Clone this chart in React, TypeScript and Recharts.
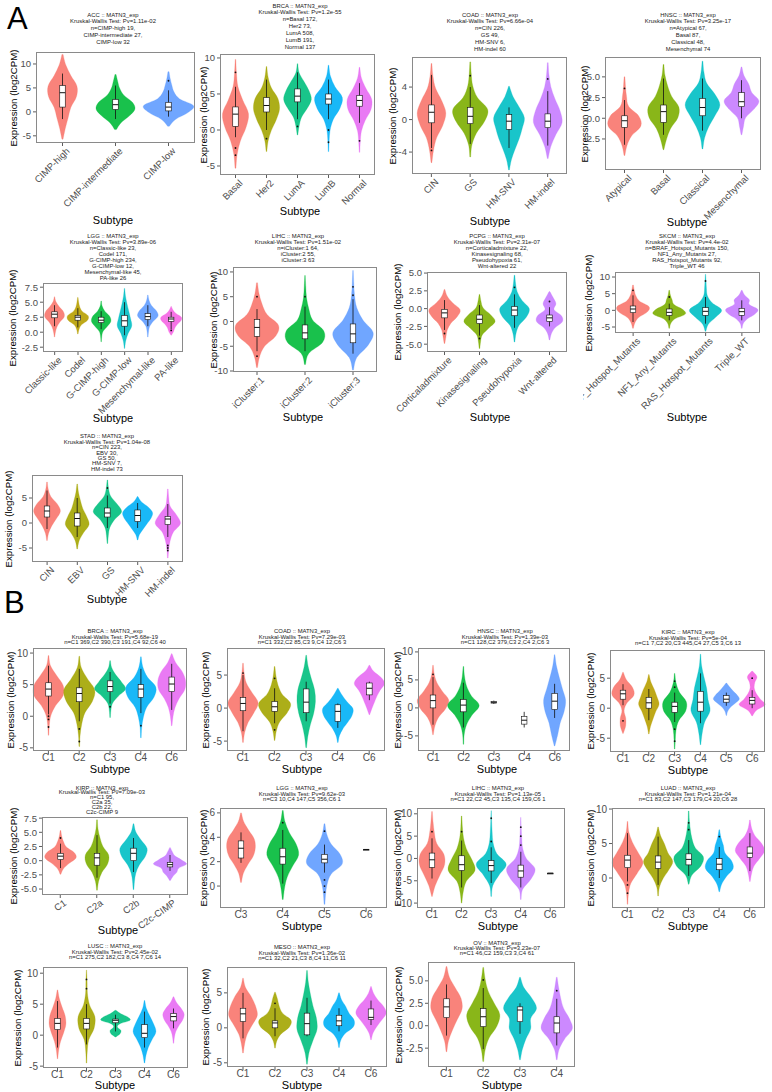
import React from "react";
import { Bar, ComposedChart, XAxis, YAxis } from "recharts";

// ggplot hue palettes
const P3 = ["#F8766D", "#00BA38", "#619CFF"];
const P4 = ["#F8766D", "#7CAE00", "#00BFC4", "#C77CFF"];
const P5 = ["#F8766D", "#A3A500", "#00BF7D", "#00B0F6", "#E76BF3"];
const P6 = ["#F8766D", "#B79F00", "#00BA38", "#00BFC4", "#619CFF", "#F564E3"];

// range = violin extent [min, max]; dens = relative widths, evenly spaced min -> max
// box = [lower whisker, q1, median, q3, upper whisker]; out = outlier points

// ---------- A: ACC
const accNames = ["CIMP-high", "CIMP-intermediate", "CIMP-low"];
const accRange = [[-5.7, 12.0], [-3.7, 7.8], [-3.0, 8.4]];
const accDens = [
  [0.02, 0.1, 0.2, 0.3, 0.5, 0.52, 0.3, 0.12, 0.02],
  [0.03, 0.2, 0.5, 0.7, 0.6, 0.3, 0.15, 0.08, 0.02],
  [0.03, 0.25, 0.7, 0.9, 0.4, 0.2, 0.12, 0.06, 0.02],
];
const accBox = [[-1.5, 1.0, 4.0, 5.5, 8.0], [-1.5, 0.5, 1.5, 2.6, 5.5], [-1.0, 0.2, 1.0, 2.0, 4.5]];
const accOut = [[], [], [6.5]];
const accTicks = [-5, 0, 5, 10];

// ---------- A: BRCA
const brcaANames = ["Basal", "Her2", "LumA", "LumB", "Normal"];
const brcaARange = [[-5.3, 9.8], [-3, 8.8], [-0.7, 9.2], [-3, 9], [-3.1, 8.7]];
const brcaADens = [
  [0.03, 0.1, 0.3, 0.65, 0.8, 0.45, 0.15, 0.06, 0.02],
  [0.02, 0.1, 0.3, 0.6, 0.8, 0.7, 0.3, 0.1, 0.02],
  [0.02, 0.1, 0.25, 0.6, 0.85, 0.7, 0.4, 0.1, 0.02],
  [0.02, 0.04, 0.1, 0.3, 0.7, 0.85, 0.4, 0.12, 0.02],
  [0.02, 0.05, 0.12, 0.35, 0.7, 0.75, 0.4, 0.12, 0.02],
];
const brcaABox = [[-1, 0.5, 2.2, 3.2, 6], [0, 2.5, 3.4, 4.5, 7], [1.5, 3.9, 4.7, 5.7, 8], [1.5, 3.6, 4.3, 5.0, 7], [1, 3.3, 4.1, 4.8, 6.5]];
const brcaAOut = [[-2.5, -3.5, 8], [-1.2], [0.5], [0, -1.7], [-1.5]];
const brcaATicks = [-5, 0, 5, 10];

// ---------- A: COAD
const coadANames = ["CIN", "GS", "HM-SNV", "HM-indel"];
const coadARange = [[-5.3, 6.9], [-4.6, 7.1], [-6.2, 4.1], [-4.8, 7.0]];
const coadADens = [
  [0.02, 0.1, 0.25, 0.55, 0.7, 0.5, 0.2, 0.07, 0.02],
  [0.02, 0.08, 0.3, 0.7, 0.85, 0.35, 0.12, 0.05, 0.02],
  [0.02, 0.12, 0.3, 0.5, 0.65, 0.75, 0.5, 0.2, 0.02],
  [0.02, 0.15, 0.4, 0.7, 0.6, 0.35, 0.15, 0.06, 0.02],
];
const coadABox = [[-3.5, -0.4, 0.9, 1.8, 5.5], [-3, -0.5, 0.4, 1.5, 4], [-3.5, -1.2, -0.2, 0.6, 1.5], [-3.2, -1.0, -0.2, 0.7, 3.5]];
const coadAOut = [[-3.8], [5.4], [], [5]];
const coadATicks = [-4, 0, 4];

// ---------- A: HNSC
const hnscANames = ["Atypical", "Basal", "Classical", "Mesenchymal"];
const hnscARange = [[-4.5, 5.0], [-3.8, 6.5], [-3.7, 6.9], [-2.0, 6.2]];
const hnscADens = [
  [0.02, 0.12, 0.35, 0.8, 0.7, 0.2, 0.1, 0.05, 0.02],
  [0.02, 0.15, 0.35, 0.7, 0.75, 0.4, 0.2, 0.07, 0.02],
  [0.02, 0.1, 0.3, 0.6, 0.85, 0.6, 0.2, 0.07, 0.02],
  [0.02, 0.1, 0.2, 0.6, 0.85, 0.5, 0.35, 0.12, 0.02],
];
const hnscABox = [[-3.2, -1.1, -0.3, 0.3, 2.2], [-2, -0.5, 0.8, 1.6, 4.8], [-1.5, 0.3, 1.3, 2.4, 4.8], [0, 1.4, 2.0, 3.1, 4.6]];
const hnscAOut = [[3.6], [], [], []];
const hnscATicks = [-2.5, 0, 2.5, 5];

// ---------- A: LGG
const lggANames = ["Classic-like", "Codel", "G-CIMP-high", "G-CIMP-low", "Mesenchymal-like", "PA-like"];
const lggARange = [[-0.8, 5.9], [-0.3, 5.8], [-1.6, 5.2], [-2.7, 7.3], [-0.8, 6.2], [-0.5, 4.3]];
const lggADens = [
  [0.02, 0.08, 0.2, 0.45, 0.8, 0.75, 0.4, 0.12, 0.02],
  [0.02, 0.1, 0.3, 0.8, 0.85, 0.35, 0.15, 0.07, 0.02],
  [0.02, 0.05, 0.15, 0.5, 0.8, 0.7, 0.3, 0.08, 0.02],
  [0.02, 0.1, 0.3, 0.6, 0.5, 0.35, 0.2, 0.08, 0.02],
  [0.02, 0.06, 0.15, 0.45, 0.85, 0.7, 0.3, 0.1, 0.02],
  [0.02, 0.2, 0.3, 0.5, 0.8, 0.85, 0.4, 0.15, 0.02],
];
const lggABox = [[1.0, 2.4, 3.0, 3.4, 4.5], [0.8, 2.0, 2.5, 2.8, 4.0], [0.5, 1.6, 2.0, 2.5, 3.5], [-0.5, 1.0, 1.9, 2.8, 5.0], [1.0, 2.1, 2.6, 3.1, 4.5], [0.5, 1.8, 2.2, 2.5, 3.4]];
const lggAOut = [[], [], [], [], [], [0.3]];
const lggATicks = [-2.5, 0, 2.5, 5, 7.5];

// ---------- A: LIHC
const lihcANames = ["iCluster:1", "iCluster:2", "iCluster:3"];
const lihcARange = [[-9.3, 7.8], [-8.7, 9.3], [-9.8, 10.3]];
const lihcADens = [
  [0.02, 0.1, 0.3, 0.75, 0.85, 0.4, 0.2, 0.08, 0.02],
  [0.02, 0.15, 0.7, 0.75, 0.3, 0.15, 0.06, 0.03, 0.01],
  [0.02, 0.15, 0.6, 0.8, 0.4, 0.15, 0.06, 0.03, 0.01],
];
const lihcABox = [[-6, -3.0, -1.2, 0.4, 2.5], [-6, -3.5, -2.3, -0.7, 3], [-6.5, -4.3, -2.5, -0.5, 4.5]];
const lihcAOut = [[-7, 5], [5], [7, 5.3]];
const lihcATicks = [-10, -5, 0, 5, 10];

// ---------- A: PCPG
const pcpgNames = ["Corticaladmixture", "Kinasesignaling", "Pseudohypoxia", "Wnt-altered"];
const pcpgRange = [[-4.9, 2.7], [-5.6, 2.0], [-4.7, 4.7], [-4.4, 2.4]];
const pcpgDens = [
  [0.02, 0.08, 0.15, 0.35, 0.7, 0.85, 0.45, 0.15, 0.02],
  [0.02, 0.06, 0.15, 0.5, 0.85, 0.6, 0.2, 0.08, 0.02],
  [0.02, 0.08, 0.25, 0.65, 0.8, 0.4, 0.15, 0.06, 0.02],
  [0.02, 0.1, 0.3, 0.7, 0.65, 0.25, 0.35, 0.2, 0.02],
];
const pcpgBox = [[-3, -1.3, -0.6, -0.1, 1.2], [-3.8, -2.1, -1.5, -0.9, 0.5], [-2.7, -1.0, -0.2, 0.3, 2.0], [-2.5, -1.8, -1.3, -0.9, 0.2]];
const pcpgOut = [[-3.5], [-4.2], [3], [1.0]];
const pcpgTicks = [-5, -2.5, 0, 2.5, 5];

// ---------- A: SKCM
const skcmNames = ["BRAF_Hotspot_Mutants", "NF1_Any_Mutants", "RAS_Hotspot_Mutants", "Triple_WT"];
const skcmRange = [[-5.4, 7.6], [-5.4, 6.0], [-6.3, 10.8], [-5.4, 6.0]];
const skcmDens = [
  [0.02, 0.1, 0.3, 0.75, 0.85, 0.35, 0.15, 0.07, 0.02],
  [0.02, 0.08, 0.3, 0.85, 0.7, 0.25, 0.15, 0.06, 0.02],
  [0.02, 0.15, 0.55, 0.85, 0.35, 0.1, 0.05, 0.03, 0.01],
  [0.02, 0.08, 0.3, 0.7, 0.85, 0.4, 0.4, 0.15, 0.02],
];
const skcmBox = [[-3.5, -0.7, 0.4, 1.3, 4.5], [-3, -1.5, -0.6, 0.4, 2], [-4, -1.5, -0.3, 0.8, 4], [-3, -1.5, -0.4, 0.6, 3]];
const skcmOut = [[6], [4], [8.8], []];
const skcmTicks = [-5, 0, 5, 10];

// ---------- A: STAD
const stadNames = ["CIN", "EBV", "GS", "HM-SNV", "HM-indel"];
const stadRange = [[-3.5, 8.2], [-5.2, 7.8], [-4.1, 8.6], [-3.4, 5.3], [-7, 6.8]];
const stadDens = [
  [0.02, 0.1, 0.3, 0.6, 0.85, 0.65, 0.25, 0.08, 0.02],
  [0.02, 0.12, 0.4, 0.75, 0.6, 0.35, 0.2, 0.08, 0.02],
  [0.02, 0.06, 0.15, 0.45, 0.9, 0.6, 0.2, 0.07, 0.02],
  [0.02, 0.12, 0.35, 0.6, 0.85, 0.95, 0.7, 0.25, 0.02],
  [0.02, 0.06, 0.15, 0.35, 0.8, 0.55, 0.15, 0.06, 0.02],
];
const stadBox = [[-1.2, 1.2, 2.4, 3.4, 6.5], [-2.8, -0.6, 0.9, 2.0, 5], [-1, 1.2, 2.0, 3.0, 5.5], [-1, 0.3, 1.5, 2.6, 4], [-2.8, -0.3, 0.8, 1.3, 3.8]];
const stadOut = [[], [], [7], [], [-4.5, -5, -5.5]];
const stadTicks = [-5, 0, 5];

// ---------- B: BRCA
const brcaBNames = ["C1", "C2", "C3", "C4", "C6"];
const brcaBRange = [[-3, 9.6], [-4.8, 9.5], [-0.2, 8.8], [-3.4, 9.4], [-1.5, 9.9]];
const brcaBDens = [
  [0.02, 0.05, 0.15, 0.45, 0.9, 0.9, 0.5, 0.12, 0.02],
  [0.02, 0.05, 0.15, 0.35, 0.8, 0.95, 0.5, 0.12, 0.02],
  [0.02, 0.05, 0.15, 0.5, 0.95, 0.7, 0.35, 0.1, 0.02],
  [0.02, 0.05, 0.15, 0.35, 0.8, 0.92, 0.4, 0.12, 0.02],
  [0.02, 0.08, 0.2, 0.45, 0.8, 0.85, 0.65, 0.25, 0.02],
];
const brcaBBox = [[0.3, 3.2, 4.3, 5.3, 8], [-0.8, 2.3, 3.6, 4.5, 7.5], [2, 3.9, 4.7, 5.6, 7], [0.5, 3.0, 4.3, 5.0, 7.5], [1, 3.9, 5.1, 6.2, 8.3]];
const brcaBOut = [[-1.7, -0.5, 0], [-2, -4], [1.5], [-1.5], []];
const brcaBTicks = [-5, 0, 5, 10];

// ---------- B: COAD
const coadBNames = ["C1", "C2", "C3", "C4", "C6"];
const coadBRange = [[-5.2, 6.8], [-4.9, 6.3], [-6, 8], [-5.2, 3], [-1, 6.5]];
const coadBDens = [
  [0.02, 0.1, 0.3, 0.65, 0.9, 0.55, 0.2, 0.07, 0.02],
  [0.02, 0.1, 0.3, 0.75, 0.95, 0.45, 0.2, 0.08, 0.02],
  [0.02, 0.1, 0.25, 0.45, 0.55, 0.5, 0.3, 0.12, 0.02],
  [0.02, 0.1, 0.3, 0.6, 0.85, 0.9, 0.55, 0.25, 0.02],
  [0.02, 0.15, 0.3, 0.45, 0.65, 0.9, 0.7, 0.25, 0.02],
];
const coadBBox = [[-3.5, -0.4, 0.7, 1.6, 5], [-2.3, -0.5, 0.2, 1.0, 3], [-2, -0.7, 0.9, 2.9, 4], [-3, -2, -0.5, 0.5, 0.7], [1.2, 2, 3.0, 3.8, 4]];
const coadBOut = [[5.3], [-3.3, 4.5], [], [], []];
const coadBTicks = [-5, 0, 5];

// ---------- B: HNSC
const hnscBNames = ["C1", "C2", "C3", "C4", "C6"];
const hnscBRange = [[-4.8, 7.6], [-6.5, 7.4], [0.7, 1.3], [-3.5, -0.7], [-6.8, 9.5]];
const hnscBDens = [
  [0.02, 0.12, 0.35, 0.8, 1.0, 0.6, 0.25, 0.08, 0.02],
  [0.02, 0.05, 0.2, 0.55, 1.0, 0.5, 0.2, 0.07, 0.02],
  [],
  [],
  [0.02, 0.2, 0.35, 0.6, 0.7, 0.5, 0.3, 0.12, 0.02],
];
const hnscBBox = [[-3, 0, 1.3, 2.3, 5.5], [-3.5, -0.7, 0.5, 1.5, 4.5], [0.7, 0.85, 1.0, 1.15, 1.3], [-3.5, -2.9, -2.2, -1.5, -0.7], [-1.8, -0.3, 1.2, 2.6, 4.3]];
const hnscBOut = [[6], [], [], [], []];
const hnscBTicks = [-5, 0, 5, 10];

// ---------- B: KIRC
const kircNames = ["C1", "C2", "C3", "C4", "C5", "C6"];
const kircRange = [[-4.2, 6.0], [-4.3, 5.6], [-6.8, 5.8], [-6.1, 9.0], [-1.2, 4.2], [-1.3, 6.2]];
const kircDens = [
  [0.02, 0.2, 0.2, 0.08, 0.3, 0.8, 0.7, 0.25, 0.02],
  [0.02, 0.12, 0.3, 0.5, 0.75, 0.6, 0.4, 0.15, 0.02],
  [0.02, 0.05, 0.1, 0.3, 0.8, 0.85, 0.35, 0.1, 0.02],
  [0.02, 0.12, 0.3, 0.7, 0.55, 0.45, 0.25, 0.08, 0.02],
  [0.02, 0.1, 0.3, 0.65, 0.95, 0.8, 0.5, 0.25, 0.02],
  [0.02, 0.3, 0.95, 0.6, 0.3, 0.15, 0.2, 0.35, 0.02],
];
const kircBox = [[0.5, 1.5, 2.4, 3.0, 4], [-2, 0, 0.9, 1.8, 3.2], [-2.3, -0.7, 0.3, 1.0, 2.6], [-2.5, -0.5, 1.0, 2.8, 5.8], [0.4, 1.0, 1.5, 2.1, 2.6], [0, 0.7, 1.3, 1.8, 3]];
const kircOut = [[-2.1], [], [-3.5, -5.5, 4.5, 3.5], [], [], [5]];
const kircTicks = [-5, 0, 5];

// ---------- B: KIRP
const kirpNames = ["C1", "C2a", "C2b", "C2c-CIMP"];
const kirpRange = [[-2.4, 5.3], [-5.2, 7.2], [-5.1, 6.5], [-3.5, 2.3]];
const kirpDens = [
  [0.02, 0.15, 0.45, 0.8, 0.7, 0.3, 0.15, 0.06, 0.02],
  [0.02, 0.08, 0.25, 0.55, 0.6, 0.3, 0.15, 0.05, 0.02],
  [0.02, 0.05, 0.12, 0.3, 0.6, 0.7, 0.4, 0.12, 0.02],
  [0.02, 0.15, 0.35, 0.45, 0.85, 0.6, 0.25, 0.12, 0.02],
];
const kirpBox = [[-1.3, 0.2, 0.8, 1.3, 3], [-3, -0.8, 0.5, 1.3, 4.5], [-2, 0, 1.3, 2.2, 4], [-1.8, -1.1, -0.7, -0.3, 1]];
const kirpOut = [[4], [], [], []];
const kirpTicks = [-5, -2.5, 0, 2.5, 5, 7.5];

// ---------- B: LGG
const lggBNames = ["C3", "C4", "C5", "C6"];
const lggBRange = [[0.3, 6.0], [-1.1, 6.2], [-1.5, 5.1], [2.97, 3.03]];
const lggBDens = [
  [0.02, 0.1, 0.3, 0.55, 0.65, 0.6, 0.35, 0.12, 0.02],
  [0.02, 0.08, 0.2, 0.45, 0.72, 0.6, 0.3, 0.1, 0.02],
  [0.02, 0.05, 0.12, 0.3, 0.8, 0.7, 0.3, 0.1, 0.02],
  [],
];
const lggBBox = [[1.9, 2.3, 3.1, 3.7, 4.4], [0.2, 1.8, 2.4, 3.1, 4.6], [1.1, 1.9, 2.2, 2.6, 3.4], [3, 3, 3, 3, 3]];
const lggBOut = [[], [5.2], [0.5, 0, -0.5, 4.5], []];
const lggBTicks = [0, 2, 4, 6];

// ---------- B: LIHC
const lihcBNames = ["C1", "C2", "C3", "C4", "C6"];
const lihcBRange = [[-8.5, 10.5], [-10, 9.5], [-8.5, 10.7], [-9.2, 9.2], [-3.33, -3.27]];
const lihcBDens = [
  [0.02, 0.2, 0.5, 0.8, 0.75, 0.3, 0.15, 0.07, 0.02],
  [0.02, 0.1, 0.3, 0.85, 0.65, 0.3, 0.12, 0.05, 0.02],
  [0.02, 0.1, 0.5, 0.95, 0.35, 0.12, 0.06, 0.03, 0.01],
  [0.02, 0.12, 0.65, 0.9, 0.35, 0.12, 0.06, 0.03, 0.01],
  [],
];
const lihcBBox = [[-4.5, -2.0, -0.3, 1.2, 4.5], [-6.5, -2.7, -1.4, 0.6, 4], [-5.5, -2.8, -1.6, -0.5, 2.5], [-6.5, -4.2, -2.8, -1.5, 1.5], [-3.3, -3.3, -3.3, -3.3, -3.3]];
const lihcBOut = [[6], [6], [3.8, 9], [3, 5, 7], []];
const lihcBTicks = [-10, -5, 0, 5, 10];

// ---------- B: LUAD
const luadNames = ["C1", "C2", "C3", "C4", "C6"];
const luadRange = [[-3.8, 8.2], [-2.6, 7.4], [-0.9, 9.7], [-2, 7.0], [-0.5, 8.4]];
const luadDens = [
  [0.02, 0.06, 0.2, 0.6, 0.95, 0.65, 0.3, 0.08, 0.02],
  [0.02, 0.08, 0.3, 0.65, 0.9, 0.6, 0.4, 0.15, 0.02],
  [0.02, 0.2, 0.75, 0.9, 0.4, 0.2, 0.1, 0.04, 0.02],
  [0.02, 0.15, 0.45, 0.85, 0.75, 0.35, 0.25, 0.1, 0.02],
  [0.02, 0.1, 0.25, 0.6, 0.9, 0.7, 0.3, 0.1, 0.02],
];
const luadBox = [[-0.5, 1.5, 2.6, 3.3, 6.5], [-1, 1.4, 2.3, 3.2, 6], [0.3, 1.9, 2.7, 3.5, 5.5], [0, 1.2, 2.0, 2.8, 4.5], [1, 3.0, 3.6, 4.5, 6.5]];
const luadOut = [[-2.2, -1], [], [7, 8], [6], []];
const luadTicks = [0, 5, 10];

// ---------- B: LUSC
const luscNames = ["C1", "C2", "C3", "C4", "C6"];
const luscRange = [[-3.8, 7.3], [-4.5, 10.5], [-0.3, 4.0], [-4.5, 5.6], [-1.3, 6.2]];
const luscDens = [
  [0.02, 0.08, 0.2, 0.4, 0.55, 0.5, 0.3, 0.12, 0.02],
  [0.02, 0.05, 0.15, 0.5, 0.55, 0.2, 0.06, 0.04, 0.01],
  [0.02, 0.3, 0.35, 0.12, 0.3, 0.95, 0.8, 0.35, 0.02],
  [0.02, 0.1, 0.25, 0.5, 0.75, 0.6, 0.35, 0.12, 0.02],
  [0.02, 0.06, 0.15, 0.35, 0.6, 0.7, 0.5, 0.2, 0.02],
];
const luscBox = [[-2, 0.9, 1.9, 2.7, 5.5], [-1.5, 1.0, 1.9, 2.7, 5], [0.6, 2.0, 2.4, 2.6, 3.3], [-2, -0.4, 0.3, 1.7, 3.8], [1.1, 2.3, 3.0, 3.5, 4.3]];
const luscOut = [[], [9, 7.5], [], [], []];
const luscTicks = [-5, 0, 5, 10];

// ---------- B: MESO
const mesoNames = ["C1", "C2", "C3", "C4", "C6"];
const mesoRange = [[-3.6, 7.1], [-2.9, 5.1], [-5.2, 8.2], [-2.8, 5.0], [-1.7, 5.9]];
const mesoDens = [
  [0.02, 0.1, 0.25, 0.55, 0.85, 0.75, 0.5, 0.15, 0.02],
  [0.02, 0.1, 0.35, 0.85, 0.95, 0.45, 0.25, 0.15, 0.02],
  [0.02, 0.12, 0.35, 0.6, 0.55, 0.35, 0.2, 0.08, 0.02],
  [0.02, 0.1, 0.35, 0.85, 0.9, 0.6, 0.4, 0.15, 0.02],
  [0.02, 0.12, 0.35, 0.65, 0.9, 0.75, 0.4, 0.15, 0.02],
];
const mesoBox = [[-1.5, 0.9, 2.0, 2.8, 5], [-1.2, 0, 0.7, 1.0, 2.8], [-1.2, -1, 0.6, 2.1, 4.3], [-0.5, 0.3, 1.0, 1.8, 2.8], [0.4, 1.2, 1.5, 2.7, 3.9]];
const mesoOut = [[], [3.5], [], [], []];
const mesoTicks = [-5, 0, 5];

// ---------- B: OV
const ovNames = ["C1", "C2", "C3", "C4"];
const ovRange = [[-2.9, 6.6], [-4.0, 6.5], [-3.8, 5.4], [-3.8, 5.4]];
const ovDens = [
  [0.02, 0.1, 0.3, 0.55, 0.8, 0.75, 0.45, 0.15, 0.02],
  [0.02, 0.1, 0.3, 0.7, 0.85, 0.55, 0.25, 0.1, 0.02],
  [0.02, 0.12, 0.3, 0.55, 0.55, 0.85, 0.6, 0.2, 0.02],
  [0.02, 0.12, 0.4, 0.8, 0.65, 0.35, 0.2, 0.1, 0.02],
];
const ovBox = [[-1.1, 0.9, 2.1, 3.0, 4.6], [-2.6, -0.1, 1.0, 1.9, 4.2], [-0.9, 0.45, 1.75, 2.1, 2.5], [-2.2, -0.8, 0.3, 1.0, 3.0]];
const ovOut = [[], [5.1], [], [3.9]];
const ovTicks = [-2.5, 0, 2.5, 5];

type Panel = {
  names: string[];
  range: number[][];
  dens: number[][];
  box: number[][];
  out: number[][];
  colors: (string | null)[];
  ticks: number[];
  domain: [number, number];
  title: string[];
  L: number; R: number; T: number; B: number;
  tx: number; ty: number; tlh: number;
  ylx: number; sx: number; sy: number;
  rot: number; yW?: number; xH: number;
};

const panels: Panel[] = [
  { names: accNames, range: accRange, dens: accDens, box: accBox, out: accOut, colors: P3, ticks: accTicks, domain: [-6.5, 12.5],
    title: ["ACC :: MATN3_exp", "Kruskal-Wallis Test: Pv=1.11e-02", "n=CIMP-high 19,", "CIMP-intermediate 27,", "CIMP-low 32"],
    L: 36, R: 195, T: 52, B: 143, tx: 113, ty: 15, tlh: 6.8, ylx: 13, sx: 113, sy: 220, rot: 45, xH: 80 },
  { names: brcaANames, range: brcaARange, dens: brcaADens, box: brcaABox, out: brcaAOut, colors: P5, ticks: brcaATicks, domain: [-6.25, 10.55],
    title: ["BRCA :: MATN3_exp", "Kruskal-Wallis Test: Pv=1.2e-55", "n=Basal 172,", "Her2 73,", "LumA 508,", "LumB 191,", "Normal 137"],
    L: 220, R: 375, T: 54, B: 175, tx: 300, ty: 6, tlh: 6.9, ylx: 203, sx: 300, sy: 211, rot: 45, xH: 60 },
  { names: coadANames, range: coadARange, dens: coadADens, box: coadABox, out: coadAOut, colors: P4, ticks: coadATicks, domain: [-6.7, 7.7],
    title: ["COAD :: MATN3_exp", "Kruskal-Wallis Test: Pv=6.66e-04", "n=CIN 226,", "GS 49,", "HM-SNV 6,", "HM-indel 60"],
    L: 412, R: 567, T: 57, B: 174, tx: 490, ty: 15, tlh: 6.8, ylx: 392, sx: 490, sy: 221, rot: 45, xH: 60 },
  { names: hnscANames, range: hnscARange, dens: hnscADens, box: hnscABox, out: hnscAOut, colors: P4, ticks: hnscATicks, domain: [-6.25, 7.4],
    title: ["HNSC :: MATN3_exp", "Kruskal-Wallis Test: Pv=3.25e-17", "n=Atypical 67,", "Basal 87,", "Classical 48,", "Mesenchymal 74"],
    L: 605, R: 761, T: 57, B: 170, tx: 688, ty: 15, tlh: 6.8, ylx: 584, sx: 687, sy: 222, rot: 45, xH: 60 },
  { names: lggANames, range: lggARange, dens: lggADens, box: lggABox, out: lggAOut, colors: P6, ticks: lggATicks, domain: [-3.3, 8.2],
    title: ["LGG :: MATN3_exp", "Kruskal-Wallis Test: Pv=3.89e-06", "n=Classic-like 23,", "Codel 171,", "G-CIMP-high 234,", "G-CIMP-low 12,", "Mesenchymal-like 45,", "PA-like 26"],
    L: 43, R: 183, T: 283, B: 352, tx: 113, ty: 236, tlh: 6.0, ylx: 12, sx: 113, sy: 418, rot: 45, xH: 80 },
  { names: lihcANames, range: lihcARange, dens: lihcADens, box: lihcABox, out: lihcAOut, colors: P3, ticks: lihcATicks, domain: [-10.2, 11],
    title: ["LIHC :: MATN3_exp", "Kruskal-Wallis Test: Pv=1.51e-02", "n=iCluster:1 64,", "iCluster:2 55,", "iCluster:3 63"],
    L: 233, R: 377, T: 267, B: 372, tx: 298, ty: 236, tlh: 6.0, ylx: 213, sx: 303, sy: 417, rot: 45, xH: 60 },
  { names: pcpgNames, range: pcpgRange, dens: pcpgDens, box: pcpgBox, out: pcpgOut, colors: P4, ticks: pcpgTicks, domain: [-6.1, 5.15],
    title: ["PCPG :: MATN3_exp", "Kruskal-Wallis Test: Pv=2.31e-07", "n=Corticaladmixture 22,", "Kinasesignaling 68,", "Pseudohypoxia 61,", "Wnt-altered 22"],
    L: 427, R: 567, T: 272, B: 352, tx: 497, ty: 236, tlh: 6.0, ylx: 397, sx: 490, sy: 417, rot: 45, xH: 80 },
  { names: skcmNames, range: skcmRange, dens: skcmDens, box: skcmBox, out: skcmOut, colors: P4, ticks: skcmTicks, domain: [-6.8, 11.5],
    title: ["SKCM :: MATN3_exp", "Kruskal-Wallis Test: Pv=4.4e-02", "n=BRAF_Hotspot_Mutants 150,", "NF1_Any_Mutants 27,", "RAS_Hotspot_Mutants 92,", "Triple_WT 46"],
    L: 615, R: 760, T: 272, B: 333, tx: 687, ty: 236, tlh: 6.0, ylx: 588, sx: 687, sy: 417, rot: 45, yW: 32, xH: 80 },
  { names: stadNames, range: stadRange, dens: stadDens, box: stadBox, out: stadOut, colors: P5, ticks: stadTicks, domain: [-7.8, 9.6],
    title: ["STAD :: MATN3_exp", "Kruskal-Wallis Test: Pv=1.04e-08", "n=CIN 223,", "EBV 30,", "GS 50,", "HM-SNV 7,", "HM-indel 73"],
    L: 32, R: 183, T: 475, B: 562, tx: 107, ty: 437, tlh: 5.4, ylx: 8, sx: 107, sy: 599, rot: 45, xH: 50 },
  { names: brcaBNames, range: brcaBRange, dens: brcaBDens, box: brcaBBox, out: brcaBOut, colors: P5, ticks: brcaBTicks, domain: [-5.5, 10.8],
    title: ["BRCA :: MATN3_exp", "Kruskal-Wallis Test: Pv=5.68e-19", "n=C1 369,C2 390,C3 191,C4 92,C6 40"],
    L: 33, R: 187, T: 648, B: 751, tx: 115, ty: 632, tlh: 5.6, ylx: 10, sx: 110, sy: 769, rot: 0, xH: 16 },
  { names: coadBNames, range: coadBRange, dens: coadBDens, box: coadBBox, out: coadBOut, colors: P5, ticks: coadBTicks, domain: [-6.5, 9.1],
    title: ["COAD :: MATN3_exp", "Kruskal-Wallis Test: Pv=7.29e-03", "n=C1 332,C2 85,C3 9,C4 12,C6 3"],
    L: 227, R: 385, T: 648, B: 751, tx: 302, ty: 632, tlh: 5.6, ylx: 205, sx: 302, sy: 769, rot: 0, xH: 16 },
  { names: hnscBNames, range: hnscBRange, dens: hnscBDens, box: hnscBBox, out: hnscBOut, colors: ["#F8766D", "#00BA38", null, null, "#619CFF"], ticks: hnscBTicks, domain: [-7.7, 10.7],
    title: ["HNSC :: MATN3_exp", "Kruskal-Wallis Test: Pv=1.39e-03", "n=C1 128,C2 379,C3 2,C4 2,C6 3"],
    L: 418, R: 570, T: 648, B: 751, tx: 505, ty: 632, tlh: 5.6, ylx: 397, sx: 497, sy: 769, rot: 0, xH: 16 },
  { names: kircNames, range: kircRange, dens: kircDens, box: kircBox, out: kircOut, colors: P6, ticks: kircTicks, domain: [-7.3, 9.7],
    title: ["KIRC :: MATN3_exp", "Kruskal-Wallis Test: Pv=5e-04", "n=C1 7,C2 20,C3 445,C4 27,C5 3,C6 13"],
    L: 610, R: 765, T: 650, B: 752, tx: 688, ty: 633, tlh: 5.6, ylx: 590, sx: 688, sy: 770, rot: 0, xH: 16 },
  { names: kirpNames, range: kirpRange, dens: kirpDens, box: kirpBox, out: kirpOut, colors: P4, ticks: kirpTicks, domain: [-6.05, 7.7],
    title: ["KIRP :: MATN3_exp", "Kruskal-Wallis Test: Pv=7.09e-03", "n=C1 95,", "C2a 35,", "C2b 22,", "C2c-CIMP 9"],
    L: 42, R: 188, T: 817, B: 895, tx: 102, ty: 788, tlh: 4.8, ylx: 13, sx: 118, sy: 930, rot: 35, xH: 40 },
  { names: lggBNames, range: lggBRange, dens: lggBDens, box: lggBBox, out: lggBOut, colors: [...P3, null], ticks: lggBTicks, domain: [-1.8, 6.4],
    title: ["LGG :: MATN3_exp", "Kruskal-Wallis Test: Pv=9.62e-03", "n=C3 10,C4 147,C5 356,C6 1"],
    L: 220, R: 387, T: 808, B: 908, tx: 302, ty: 789, tlh: 5.5, ylx: 203, sx: 302, sy: 926, rot: 0, xH: 16 },
  { names: lihcBNames, range: lihcBRange, dens: lihcBDens, box: lihcBBox, out: lihcBOut, colors: [...P4, null], ticks: lihcBTicks, domain: [-11.1, 11.3],
    title: ["LIHC :: MATN3_exp", "Kruskal-Wallis Test: Pv=1.13e-05", "n=C1 22,C2 45,C3 135,C4 159,C6 1"],
    L: 417, R: 565, T: 808, B: 908, tx: 498, ty: 789, tlh: 5.5, ylx: 397, sx: 498, sy: 926, rot: 0, xH: 16 },
  { names: luadNames, range: luadRange, dens: luadDens, box: luadBox, out: luadOut, colors: P5, ticks: luadTicks, domain: [-4.35, 10.15],
    title: ["LUAD :: MATN3_exp", "Kruskal-Wallis Test: Pv=1.21e-04", "n=C1 83,C2 147,C3 179,C4 20,C6 28"],
    L: 612, R: 765, T: 808, B: 908, tx: 688, ty: 789, tlh: 5.5, ylx: 590, sx: 688, sy: 926, rot: 0, xH: 16 },
  { names: luscNames, range: luscRange, dens: luscDens, box: luscBox, out: luscOut, colors: P5, ticks: luscTicks, domain: [-5.3, 11],
    title: ["LUSC :: MATN3_exp", "Kruskal-Wallis Test: Pv=2.45e-02", "n=C1 275,C2 182,C3 8,C4 7,C6 14"],
    L: 43, R: 188, T: 967, B: 1068, tx: 115, ty: 947, tlh: 5.5, ylx: 17, sx: 115, sy: 1085, rot: 0, xH: 16 },
  { names: mesoNames, range: mesoRange, dens: mesoDens, box: mesoBox, out: mesoOut, colors: P5, ticks: mesoTicks, domain: [-5.6, 8.7],
    title: ["MESO :: MATN3_exp", "Kruskal-Wallis Test: Pv=1.36e-02", "n=C1 32,C2 21,C3 8,C4 11,C6 11"],
    L: 227, R: 387, T: 967, B: 1067, tx: 302, ty: 948, tlh: 5.5, ylx: 205, sx: 302, sy: 1085, rot: 0, xH: 16 },
  { names: ovNames, range: ovRange, dens: ovDens, box: ovBox, out: ovOut, colors: P4, ticks: ovTicks, domain: [-4.6, 7.1],
    title: ["OV :: MATN3_exp", "Kruskal-Wallis Test: Pv=3.23e-07", "n=C1 46,C2 159,C3 3,C4 61"],
    L: 428, R: 575, T: 962, B: 1067, tx: 497, ty: 943, tlh: 5.0, ylx: 398, sx: 502, sy: 1085, rot: 0, xH: 16 },
];

const FONT = "'Liberation Sans', Arial, Helvetica, sans-serif";
const TICK_FILL = "#4D4D4D";
const WIDTH_SCALE = 1.05;
const TOP_PAD = 8;

function catmull(pts: number[][]) {
  let s = "";
  for (let i = 0; i < pts.length - 1; i++) {
    const p0 = pts[i - 1] || pts[i];
    const p1 = pts[i];
    const p2 = pts[i + 1];
    const p3 = pts[i + 2] || p2;
    const c1x = p1[0] + (p2[0] - p0[0]) / 6;
    const c1y = p1[1] + (p2[1] - p0[1]) / 6;
    const c2x = p2[0] - (p3[0] - p1[0]) / 6;
    const c2y = p2[1] - (p3[1] - p1[1]) / 6;
    s += `C${c1x},${c1y} ${c2x},${c2y} ${p2[0]},${p2[1]} `;
  }
  return s;
}

// one Bar per group spans the violin range; the shape draws violin + box from it
function makeShape(p: Panel) {
  return (props: any) => {
    const { x, y, width, height, payload } = props;
    const i = props.index != null ? props.index : p.names.indexOf(payload.name);
    const [lo, hi] = p.range[i];
    const top = Math.min(y, y + height);
    const h = Math.abs(height);
    const span = hi - lo;
    const py = (v: number) => (span > 0 ? top + ((hi - v) / span) * h : top + h / 2);
    const cx = x + width / 2;
    const dens = p.dens[i];
    const color = p.colors[i];
    const [wlo, q1, med, q3, whi] = p.box[i];
    let violin = null;
    if (dens.length && color) {
      const n = dens.length;
      const right = dens.map((w, k) => [cx + (w * WIDTH_SCALE * width) / 2, py(lo + (k * span) / (n - 1))]);
      const left = right.slice().reverse().map(([px, yy]) => [2 * cx - px, yy]);
      const d = `M${right[0][0]},${right[0][1]} ${catmull(right)}L${left[0][0]},${left[0][1]} ${catmull(left)}Z`;
      violin = <path d={d} fill={color} fillOpacity={0.9} stroke={color} strokeOpacity={0.5} strokeWidth={0.5} />;
    }
    const bw = 5.5;
    const bTop = py(q3);
    const bH = Math.max(py(q1) - bTop, 0.8);
    return (
      <g>
        {violin}
        <line x1={cx} x2={cx} y1={py(whi)} y2={py(wlo)} stroke="#111" strokeWidth={0.8} />
        <rect x={cx - bw / 2} y={bTop} width={bw} height={bH} fill="#fff" stroke="#111" strokeWidth={0.6} />
        <line x1={cx - bw / 2} x2={cx + bw / 2} y1={py(med)} y2={py(med)} stroke="#111" strokeWidth={1} />
        {p.out[i].map((v, k) => (
          <circle key={k} cx={cx} cy={py(v)} r={0.9} fill="#111" />
        ))}
      </g>
    );
  };
}

function makeXTick(rot: number, fs: number) {
  return (props: any) => {
    const { x, y, payload } = props;
    if (rot) {
      const ax = x + 3;
      const ay = y;
      return (
        <text x={ax} y={ay} transform={`rotate(${-rot},${ax},${ay})`} textAnchor="end" dy="0.7em" fontSize={fs} fill={TICK_FILL}>
          {payload.value}
        </text>
      );
    }
    return (
      <text x={x} y={y - 1} textAnchor="middle" dy="0.7em" fontSize={fs} fill={TICK_FILL}>
        {payload.value}
      </text>
    );
  };
}

function ViolinPanel({ p }: { p: Panel }) {
  const yW = p.yW ?? 50;
  const w = p.R - p.L + yW + 1;
  const h = p.B - p.T + TOP_PAD + p.xH;
  const data = p.names.map((name, i) => ({ name, range: p.range[i] }));
  const dec = p.ticks.some((t) => !Number.isInteger(t));
  const fmt = (v: number) => (dec ? v.toFixed(1) : String(v));
  const fs = p.rot ? 9.5 : 10;
  return (
    <>
      <div
        style={{
          position: "absolute",
          left: p.tx,
          top: p.ty - p.tlh / 2,
          transform: "translateX(-50%)",
          fontSize: 5.9,
          lineHeight: `${p.tlh}px`,
          textAlign: "center",
          whiteSpace: "nowrap",
          color: "#222",
        }}
      >
        {p.title.map((t, k) => (
          <div key={k}>{t}</div>
        ))}
      </div>
      <div
        style={{
          position: "absolute",
          left: p.ylx,
          top: (p.T + p.B) / 2,
          transform: "translate(-50%, -50%) rotate(-90deg)",
          fontSize: 9.7,
          lineHeight: "11px",
          whiteSpace: "nowrap",
          color: "#000",
        }}
      >
        Expression (log2CPM)
      </div>
      <div
        style={{
          position: "absolute",
          left: p.sx,
          top: p.sy,
          transform: "translate(-50%, -50%)",
          fontSize: 11,
          lineHeight: "12px",
          whiteSpace: "nowrap",
          color: "#000",
        }}
      >
        Subtype
      </div>
      <div style={{ position: "absolute", left: p.L - yW, top: p.T - TOP_PAD }}>
        <ComposedChart
          width={w}
          height={h}
          data={data}
          margin={{ top: TOP_PAD, right: 1, bottom: 0, left: 0 }}
          barCategoryGap={0}
          barGap={0}
        >
          <XAxis
            dataKey="name"
            type="category"
            interval={0}
            height={p.xH}
            axisLine={false}
            tickLine={{ stroke: "#333", strokeWidth: 0.8 }}
            tickSize={3}
            tickMargin={1}
            tick={makeXTick(p.rot, fs)}
          />
          <YAxis
            type="number"
            domain={p.domain}
            allowDataOverflow
            ticks={p.ticks}
            interval={0}
            width={yW}
            axisLine={false}
            tickLine={{ stroke: "#333", strokeWidth: 0.8 }}
            tickSize={3}
            tickMargin={2}
            tick={{ fontSize: fs, fill: TICK_FILL }}
            tickFormatter={fmt}
          />
          <Bar dataKey="range" shape={makeShape(p)} isAnimationActive={false} />
        </ComposedChart>
      </div>
      <div
        style={{
          position: "absolute",
          left: p.L,
          top: p.T,
          width: p.R - p.L,
          height: p.B - p.T,
          border: "1px solid #8a8a8a",
          boxSizing: "border-box",
          pointerEvents: "none",
        }}
      />
    </>
  );
}

export default function App() {
  return (
    <div
      style={{
        position: "absolute",
        left: 0,
        top: 0,
        width: 772,
        height: 1092,
        background: "#fff",
        fontFamily: FONT,
        overflow: "hidden",
      }}
    >
      <div style={{ position: "absolute", left: 7, top: 3, fontSize: 31, lineHeight: "31px" }}>A</div>
      <div style={{ position: "absolute", left: 4, top: 587, fontSize: 31, lineHeight: "31px" }}>B</div>
      {panels.map((p, k) => (
        <ViolinPanel key={k} p={p} />
      ))}
    </div>
  );
}
